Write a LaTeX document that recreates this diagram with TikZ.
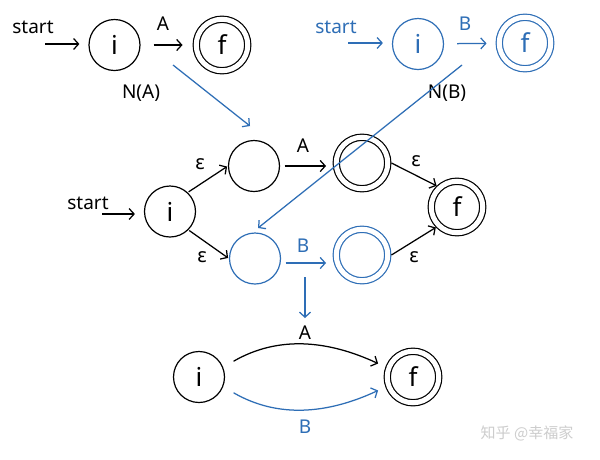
\documentclass[tikz,border=0pt]{standalone}
\usepackage{fontspec}
\setmainfont{Noto Sans}
\newfontfamily\cjkfont{Noto Sans CJK SC}
\usetikzlibrary{arrows.meta}
\definecolor{nblue}{RGB}{46,110,182}
\definecolor{wmark}{RGB}{205,205,205}
\tikzset{
  st/.style={circle, draw, line width=1.2pt, minimum size=51pt, inner sep=0pt, font=\fontsize{26}{28}\selectfont},
  acc/.style={circle, draw, line width=1.2pt, double, double distance=5pt, minimum size=51.5pt, inner sep=0pt, outer sep=3.7pt, font=\fontsize{26}{28}\selectfont},
  lbl/.style={font=\fontsize{19}{21}\selectfont, inner sep=0pt},
  eps/.style={font=\fontsize{20}{22}\selectfont, inner sep=0pt},
  arr/.style={line width=1.25pt, -{Straight Barb[length=5pt,width=11pt,line width=1.25pt]}},
}
\begin{document}
\begin{tikzpicture}[x=1pt,y=-1pt]
\useasboundingbox[fill=white] (0,0) rectangle (600,459);

% ---------- N(A) ----------
\node[lbl] (sa) at (33,27) {start};
\coordinate (sa0) at (45,44);
\node[st] (ai) at (114.5,45) {i};
\node[acc] (af) at (222,45) {f};
\node[lbl] (la) at (163,24) {A};
\node[lbl] (na) at (141,93) {N(A)};
\draw[arr, shorten >=9pt] (sa0) -- (sa0 -| ai.west);
\draw[arr, shorten <=13pt, shorten >=10pt] (ai) -- (af);

% ---------- N(B) ----------
\node[lbl, text=nblue] (sb) at (336,27) {start};
\coordinate (sb0) at (348,43);
\node[st, draw=nblue, text=nblue] (bi) at (418,44) {i};
\node[acc, draw=nblue, text=nblue] (bf) at (525,43) {f};
\node[lbl, text=nblue] (lb) at (465,24) {B};
\draw[arr, draw=nblue, shorten >=9pt] (sb0) -- (sb0 -| bi.west);
\draw[arr, draw=nblue, shorten <=13pt, shorten >=9pt] (bi) -- (bf);
\node[lbl] (nb) at (447,93) {N(B)};

% ---------- union ----------
\node[lbl] (sm) at (88,203) {start};
\coordinate (sm0) at (102,214);
\node[st] (mi) at (170,211.5) {i};
\node[st] (m1) at (254,166) {};
\node[acc] (m2) at (362,163) {};
\node[acc] (mf) at (457,207) {f};
\node[st, draw=nblue] (m3) at (255,258.5) {};
\node[acc, draw=nblue] (m4) at (362,255) {};

\draw[arr, shorten >=9pt] (sm0) -- (sm0 -| mi.west);
\draw[arr, shorten <=1pt, shorten >=1pt] (mi.47) -- (m1.west);
\draw[arr, shorten <=1pt, shorten >=1pt] (mi.-45) -- (m3.west);
\draw[arr, shorten <=4.5pt, shorten >=6.5pt] (m1.east) -- (m1.east -| m2.west);
\draw[arr, draw=nblue, shorten <=4.5pt, shorten >=6.5pt] ([yshift=-4.5pt]m3.east) -- ([yshift=-4.5pt]m3.east -| m4.west);
\draw[arr] (m2.east) -- (mf.134);
\draw[arr] (m4.east) -- (mf.-136);

\node[eps] (e1) at (200,164) {ε};
\node[eps] (e2) at (202,257) {ε};
\node[eps] (e3) at (416,161) {ε};
\node[eps] (e4) at (414,257) {ε};
\node[lbl] (la2) at (303,146) {A};
\node[lbl, text=nblue] (lb2) at (303,246) {B};

% ---------- blue construction arrows ----------
\coordinate (c1) at (173,65);
\coordinate (c2) at (250,126);
\coordinate (c3) at (462,65);
\coordinate (c4) at (258,228);
\coordinate (c5) at (305,277);
\coordinate (c6) at (305,318);
\draw[arr, draw=nblue] (c1) -- (c2);
\draw[arr, draw=nblue] (c3) -- (c4);
\draw[arr, draw=nblue] (c5) -- (c6);

% ---------- result ----------
\node[st] (ri) at (199,377) {i};
\node[acc] (rf) at (413,377) {f};
\draw[arr, shorten <=12pt, shorten >=8pt] (ri.22) to[out=30, in=155] (rf.160);
\draw[arr, draw=nblue, shorten <=12pt, shorten >=8pt] (ri.-22) to[out=-30, in=-155] (rf.-160);
\node[lbl] (la3) at (305,333) {A};
\node[lbl, text=nblue] (lb3) at (305,427) {B};

% ---------- watermark ----------
\node[text=wmark, font=\cjkfont\fontsize{15}{17}\selectfont, inner sep=0pt] (wm) at (527,433) {知乎 @幸福家};
\end{tikzpicture}
\end{document}
